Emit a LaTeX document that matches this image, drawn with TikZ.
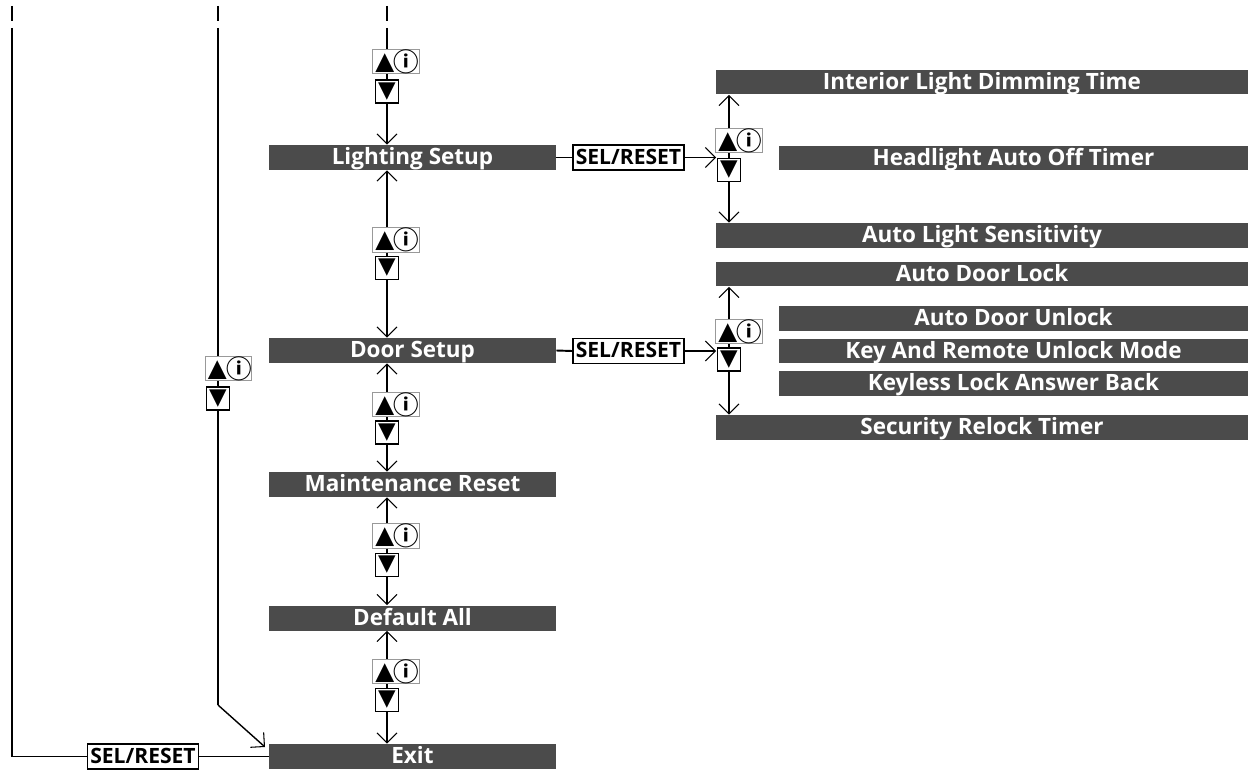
\documentclass[tikz,border=0pt]{standalone}
\usepackage{fontspec}
\setmainfont{Open Sans}
\newfontfamily\symfont{DejaVu Sans}
\newfontfamily\cjkfont{Noto Sans CJK KR}
\usetikzlibrary{arrows.meta, positioning}

\definecolor{barfill}{HTML}{4B4B4B}
\definecolor{keyedge}{HTML}{999999}

\newcommand{\upinfo}{\kern1.5pt\raisebox{1pt}{\fontsize{14}{14}\selectfont ▲}\kern-0.4pt{\cjkfont\bfseries\fontsize{14.5}{14.5}\selectfont ⓘ}}
\newcommand{\downmark}{\raisebox{0.5pt}{▼}}

\begin{document}
\begin{tikzpicture}[x=0.02cm, y=-0.02cm,
	bar/.style={fill=barfill, text=white, inner sep=0pt, minimum height=0.5cm,
		text height=0.32cm, text depth=0.03cm, font=\bfseries\fontsize{12.8}{13}\selectfont},
	mainbar/.style={bar, minimum width=5.74cm},
	fullbar/.style={bar, minimum width=10.64cm},
	subbar/.style={bar, minimum width=9.38cm},
	selbox/.style={draw, fill=white, line width=0.8pt, inner sep=0pt, minimum width=2.22cm,
		minimum height=0.5cm, text height=0.3cm, text depth=0.03cm, font=\bfseries\fontsize{12}{12}\selectfont},
	upkey/.style={draw=keyedge, fill=white, line width=0.6pt, inner sep=0pt, minimum width=0.92cm,
		minimum height=0.48cm, font=\symfont},
	downkey/.style={draw, fill=white, line width=0.8pt, inner sep=0pt, minimum size=0.46cm,
		font=\symfont\fontsize{13}{13}\selectfont},
	wire/.style={line width=1.1pt},
	thinwire/.style={line width=0.8pt},
	nav/.style={wire, -{Straight Barb[length=2mm, width=4mm, line width=0.6pt]}},
	]
	
	\useasboundingbox (0,0) rectangle (1257,770);
	
	% Main menu
	\node[mainbar] (lighting) at (412.5,157.5) {Lighting Setup};
	\node[mainbar] (door) at (412.5,350.5) {Door Setup};
	\node[mainbar] (maint) at (412.5,484.5) {Maintenance Reset};
	\node[mainbar] (default) at (412.5,618) {Default All};
	\node[mainbar] (exit) at (412.5,756.5) {Exit};
	
	% Lighting submenu
	\node[fullbar] (interior) at (982,82) {Interior Light Dimming Time};
	\node[subbar] (headlight) at (1013.5,158) {Headlight Auto Off Timer};
	\node[fullbar] (autolight) at (982,235.5) {Auto Light Sensitivity};
	
	% Door submenu
	\node[fullbar] (doorlock) at (982,274) {Auto Door Lock};
	\node[subbar] (doorunlock) at (1013.5,318.5) {Auto Door Unlock};
	\node[subbar] (keyremote) at (1013.5,351) {Key And Remote Unlock Mode};
	\node[subbar] (keyless) at (1013.5,383.5) {Keyless Lock Answer Back};
	\node[fullbar] (relock) at (982,427.5) {Security Relock Timer};
	
	% SEL/RESET buttons
	\node[selbox] (sellight) at (628.5,157.5) {SEL/RESET};
	\node[selbox] (seldoor) at (628.5,351) {SEL/RESET};
	\node[selbox] (selexit) at (143,756.5) {SEL/RESET};
	
	% Scroll buttons, main column
	\node[upkey] (up0) at (396,61.5) {\upinfo};
	\node[downkey] (dn0) at (387,91.5) {\downmark};
	\node[upkey] (up1) at (396,240) {\upinfo};
	\node[downkey] (dn1) at (387,268) {\downmark};
	\node[upkey] (up2) at (396,404.5) {\upinfo};
	\node[downkey] (dn2) at (387,432.5) {\downmark};
	\node[upkey] (up3) at (396,536) {\upinfo};
	\node[downkey] (dn3) at (387,565) {\downmark};
	\node[upkey] (up4) at (396,671.5) {\upinfo};
	\node[downkey] (dn4) at (387,700) {\downmark};
	
	% Scroll buttons, left column and submenus
	\node[upkey] (upleft) at (228.5,368.5) {\upinfo};
	\node[downkey] (dnleft) at (218,398.5) {\downmark};
	\node[upkey] (uplight) at (739,140.5) {\upinfo};
	\node[downkey] (dnlight) at (729,170) {\downmark};
	\node[upkey] (updoor) at (739,331.5) {\upinfo};
	\node[downkey] (dndoor) at (729,359.5) {\downmark};
	
	% Loose ends at the top
	\coordinate (topmain) at (387,28);
	\coordinate (topleft) at (218,28);
	\coordinate (topouter) at (12,28);
	\draw[wire] (12,6) -- (12,21);
	\draw[wire] (218,6) -- (218,21);
	\draw[wire] (387,6) -- (387,21);
	
	% Main column
	\draw[wire] (topmain) -- (dn0 |- up0.north);
	\draw[wire] (dn0 |- up0.south) -- (dn0.north);
	\draw[nav] (dn0.south) -- (dn0 |- lighting.north);
	
	\draw[nav] (dn1 |- up1.north) -- (dn1 |- lighting.south);
	\draw[wire] (dn1 |- up1.south) -- (dn1.north);
	\draw[nav] (dn1.south) -- (dn1 |- door.north);
	
	\draw[nav] (dn2 |- up2.north) -- (dn2 |- door.south);
	\draw[wire] (dn2 |- up2.south) -- (dn2.north);
	\draw[nav] (dn2.south) -- (dn2 |- maint.north);
	
	\draw[nav] (dn3 |- up3.north) -- (dn3 |- maint.south);
	\draw[wire] (dn3 |- up3.south) -- (dn3.north);
	\draw[nav] (dn3.south) -- (dn3 |- default.north);
	
	\draw[nav] (dn4 |- up4.north) -- (dn4 |- default.south);
	\draw[wire] (dn4 |- up4.south) -- (dn4.north);
	\draw[nav] (dn4.south) -- (dn4 |- exit.north);
	
	% Left column, back to Exit
	\coordinate (bend) at (218,705);
	\coordinate (exitin) at (265,747);
	\draw[thinwire] (topleft) -- (dnleft |- upleft.north);
	\draw[thinwire] (dnleft |- upleft.south) -- (dnleft.north);
	\draw[thinwire] (dnleft.south) -- (bend);
	\draw[thinwire, -{Straight Barb[length=2mm, width=4mm, line width=0.6pt]}] (bend) -- (exitin);
	
	% Outer loop through SEL/RESET
	\draw[wire] (topouter) |- (selexit.west);
	\draw[wire] (selexit.east) -- (exit.west);
	
	% Lighting Setup submenu
	\coordinate (inlight) at (716,157.5);
	\draw[wire] (lighting.east) -- (sellight.west);
	\draw[nav] (sellight.east) -- (inlight);
	\draw[nav] (dnlight |- uplight.north) -- (dnlight |- interior.south);
	\draw[wire] (dnlight |- uplight.south) -- (dnlight.north);
	\draw[nav] (dnlight.south) -- (dnlight |- autolight.north);
	
	% Door Setup submenu
	\coordinate (indoor) at (716,351);
	\draw[wire] (door.east) -- (seldoor.west);
	\draw[nav] (seldoor.east) -- (indoor);
	\draw[nav] (dndoor |- updoor.north) -- (dndoor |- doorlock.south);
	\draw[wire] (dndoor |- updoor.south) -- (dndoor.north);
	\draw[nav] (dndoor.south) -- (dndoor |- relock.north);
	
\end{tikzpicture}
\end{document}
